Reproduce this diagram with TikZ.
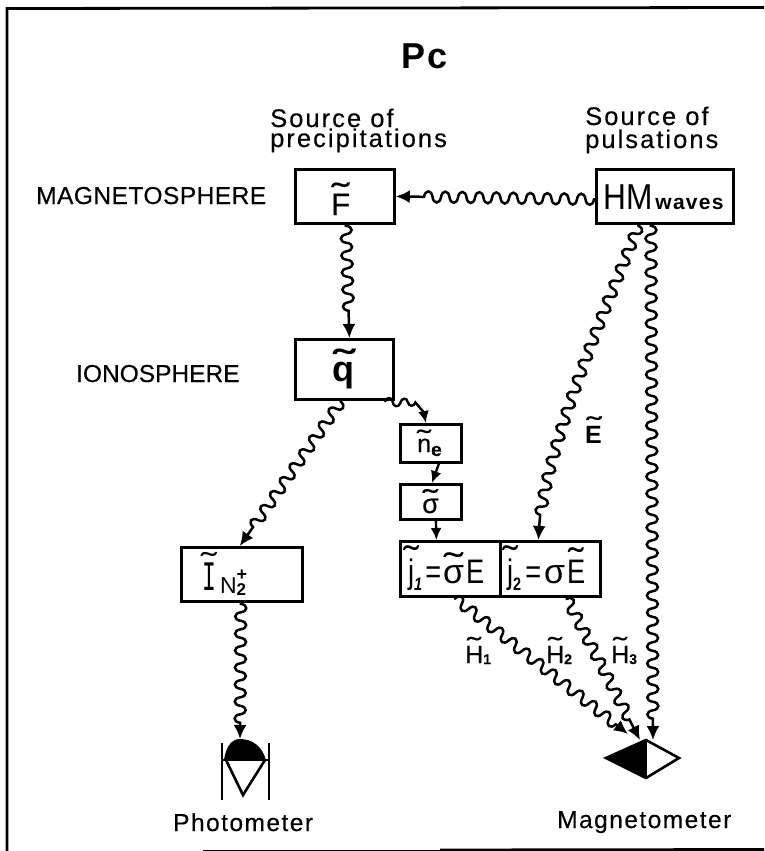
\documentclass[tikz,border=0pt]{standalone}
\usepackage{fontspec}
\setmainfont{Liberation Sans}
\newfontfamily\monof{Liberation Mono}
\newfontfamily\narrowf[FakeStretch=0.8]{Liberation Sans}
\newfontfamily\hmf[FakeStretch=0.88]{Liberation Sans}
\newfontfamily\spf[LetterSpace=8,FakeBold=0.3]{Liberation Sans}
\newfontfamily\spg[LetterSpace=6,FakeBold=0.3]{Liberation Sans}
\newfontfamily\sph[LetterSpace=2,FakeBold=0.3]{Liberation Sans}
\newfontfamily\spi[FakeBold=0.3]{Liberation Sans}
\newfontfamily\spb[LetterSpace=6]{Liberation Sans Bold}
\usetikzlibrary{decorations.pathmorphing,arrows.meta}
\newdimen\wvL \newdimen\wvA
\pgfdeclaredecoration{rwave}{s}{
 \state{s}[switch if less than=\pgfdecorationsegmentlength to final,width=\pgfdecorationsegmentlength]{
  \wvL=\pgfdecorationsegmentlength\relax
  \wvA=\pgfdecorationsegmentamplitude\relax
  \pgfpathcurveto{\pgfqpoint{0.06\wvL}{1.33\wvA}}{\pgfqpoint{0.44\wvL}{1.33\wvA}}{\pgfqpoint{0.5\wvL}{0pt}}
  \pgfpathcurveto{\pgfqpoint{0.56\wvL}{-1.33\wvA}}{\pgfqpoint{0.94\wvL}{-1.33\wvA}}{\pgfqpoint{\wvL}{0pt}}
 }
 \state{final}{\pgfpathlineto{\pgfpointdecoratedpathlast}}
}
\newcommand\fs[1]{\fontsize{#1}{#1}\selectfont}
\newcommand\tl[1]{\setbox0\hbox{#1}\makebox[0pt][l]{\makebox[\wd0][c]{\raisebox{\dimexpr\ht0-0.43em\relax}{\scalebox{1.7}[1.1]{\char"02DC}}}}#1}
\tikzset{
 box/.style={draw=black,line width=2.8pt,inner sep=0pt,anchor=north west},
 lab/.style={inner sep=0pt,anchor=base west,text=black},
 wave/.style={draw=black,line width=2.5pt,-{Latex[length=14pt,width=13pt]},decorate,
   decoration={rwave,segment length=#1,amplitude=5.5pt,pre length=1pt,post length=12pt}},
 wave/.default=17pt,
 swave/.style={draw=black,line width=2.4pt,-{Latex[length=12pt,width=11pt]},decorate,
   decoration={rwave,segment length=#1,amplitude=3.5pt,pre length=1pt,post length=11pt}},
 swave/.default=14pt,
 symb/.style={draw=black,line width=2.6pt}
}
\begin{document}
\begin{tikzpicture}[x=1pt,y=-1pt]
\useasboundingbox (0,0) rectangle (764,851);
% frame
\draw[line width=2.8pt] (764,7.5) -- (7,8.5) -- (7,851);
\draw[line width=1pt] (203,850) -- (440,850);
\draw[line width=2.8pt] (440,850) -- (764,849.5);
% boxes
\node[box,minimum width=99pt,minimum height=54pt] (f) at (294,168) {};
\node[box,minimum width=137pt,minimum height=54pt] (hm) at (595,168) {};
\node[box,minimum width=98pt,minimum height=60pt] (q) at (294,338) {};
\node[box,minimum width=61pt,minimum height=38pt] (ne) at (399,423) {};
\node[box,minimum width=61pt,minimum height=35pt] (sig) at (399,483) {};
\node[box,minimum width=100pt,minimum height=55pt] (ja) at (399,540) {};
\node[box,minimum width=100pt,minimum height=55pt] (jb) at (499,540) {};
\node[box,minimum width=121pt,minimum height=54pt] (ii) at (180,546) {};
% box texts
\node[lab] (tf) at (331,215) {\spi\fs{31}\tl{F}};
\node[lab] (tq) at (332,381) {\fs{36}\bfseries\tl{q}};
\node[lab] (thm) at (603,209) {\hmf\fs{36}HM\hspace{3pt}{\spb\fs{21}waves}};
\node[lab] (tn) at (417,452) {\spi\fs{25}\tl{n}\raisebox{-4pt}{\bfseries\fs{19}e}};
\node[lab] (ts) at (422,513) {\spi\fs{27}\tl{σ}};
\node[lab] (tj1) at (408,583) {\fs{34}\narrowf\tl{j}\raisebox{-7pt}{\itshape\bfseries\fs{18}1}\hspace{3pt}{=}\hspace{2pt}{\rmfamily\tl{σ}}\hspace{2pt}E};
\node[lab] (tj2) at (507,583) {\fs{34}\narrowf\tl{j}\raisebox{-7pt}{\bfseries\fs{18}2}\hspace{4pt}{=}\hspace{3pt}{\rmfamily σ}\hspace{2pt}\tl{E}};
\node[lab] (ti) at (202,590) {\fs{28}\tl{\scalebox{.55}[1]{\monof\fs{42}I}}\hspace{4pt}\raisebox{-3pt}{\fs{23}N}\raisebox{-5pt}{\makebox[0pt][l]{\raisebox{15pt}{\bfseries\fs{18}+}}\bfseries\fs{17}2}};
% labels
\node[lab] (pc) at (401,68) {\bfseries\fs{36}P\hspace{2pt}c};
\node[lab] (s1) at (270,127) {\spf\fs{25.5}Source of};
\node[lab] (s2) at (270,147) {\spf\fs{25.5}precipitations};
\node[lab] (s3) at (585,125) {\spf\fs{25.5}Source of};
\node[lab] (s4) at (585,148) {\spf\fs{25.5}pulsations};
\node[lab] (m) at (36,204) {\sph\fs{24.5}MAGNETOSPHERE};
\node[lab] (io) at (76,382) {\spi\fs{24.5}IONOSPHERE};
\node[lab] (pm) at (173,831) {\spg\fs{24.5}Photometer};
\node[lab] (mm) at (557,828) {\spg\fs{24.5}Magnetometer};
\node[lab] (e) at (585,443) {\fs{25}\bfseries\tl{E}};
\node[lab] (h1) at (465,663) {\spi\fs{25}\tl{H}\raisebox{-1pt}{\bfseries\fs{14}1}};
\node[lab] (h2) at (546,663) {\spi\fs{25}\tl{H}\raisebox{-1pt}{\bfseries\fs{14}2}};
\node[lab] (h3) at (611,663) {\spi\fs{25}\tl{H}\raisebox{-1pt}{\bfseries\fs{14}3}};
% photometer
\coordinate (pt) at (240,739);
\fill (224,760) .. controls (226,746) and (232,739) .. (pt) .. controls (252,739) and (262,746) .. (266,760) -- cycle;
\draw[symb] (222,743) -- (222,800);
\draw[symb] (269,743) -- (269,800);
\draw[symb] (222,760) -- (269,760);
\draw[symb] (226,760) -- (243,795) -- (265,760);
% magnetometer
\coordinate (mt) at (646,740);
\coordinate (ml) at (606,758);
\coordinate (mb) at (646,778);
\coordinate (mr) at (679,758);
\fill (mt) -- (ml) -- (mb) -- cycle;
\draw[symb,line join=miter] (mt) -- (mr) -- (mb) -- (ml) -- cycle;
\draw[symb] (mt) -- (mb);
% wavy connectors
\draw[wave] ([yshift=-3pt]hm.west) -- (f.east);
\draw[wave] ([xshift=1pt]f.south) -- ([xshift=5pt]q.north);
\draw[wave] ([xshift=-3pt]q.south) -- ([xshift=-64pt]ii.north east);
\draw[swave=15pt] ([xshift=40pt]q.south) .. controls (402,404) and (425,396) .. ([xshift=-5pt]ne.north);
\draw[swave=12pt] ([xshift=8pt]ne.south) -- ([xshift=1pt]sig.north);
\draw[swave=12pt] ([xshift=5pt]sig.south) -- ([xshift=-14pt]ja.north);
\draw[wave] ([xshift=-26pt]hm.south) .. controls (605,310) and (540,460) .. ([xshift=-12pt]jb.north);
\draw[wave] ([xshift=-14pt]hm.south) -- ([xshift=7pt]mt);
\draw[wave] ([xshift=-63pt]ii.south east) -- (pt);
\draw[wave] ([xshift=4pt]ja.south) -- ([xshift=-18pt,yshift=6pt]mt);
\draw[wave] ([xshift=16pt]jb.south) -- ([xshift=-6pt]mt);
\end{tikzpicture}
\end{document}
